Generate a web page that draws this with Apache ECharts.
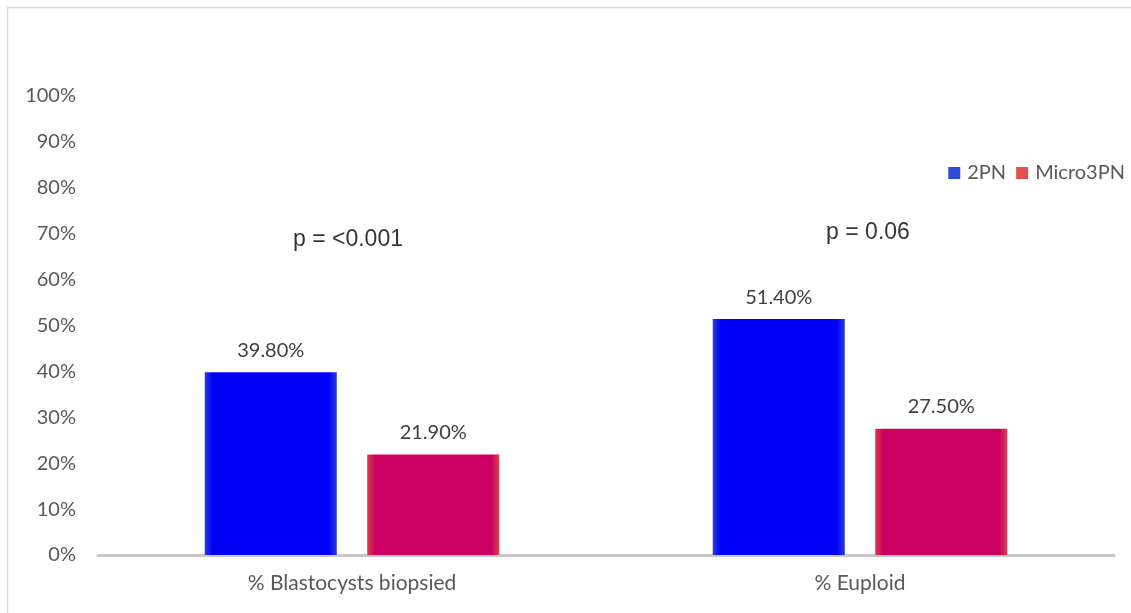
<!DOCTYPE html>
<html>
<head>
<meta charset="utf-8">
<script src="https://cdn.jsdelivr.net/npm/echarts@6/dist/echarts.min.js"></script>
<style>
html,body{margin:0;padding:0;background:#fff;}
#c{width:1131px;height:613px;}
</style>
</head>
<body>
<div id="c"></div>
<script>
var categories = ['% Blastocysts biopsied', '% Euploid'];
var seriesNames = ['2PN', 'Micro3PN'];
var values2PN = [39.8, 51.4];
var valuesMicro3PN = [21.9, 27.5];
var pLabels = ['p = <0.001', 'p = 0.06'];
var pLabelY = [68.6, 70.3];
var yTicks = [0, 10, 20, 30, 40, 50, 60, 70, 80, 90, 100];
var pLabelShift = [[-4, 0], [8, 0]];

function grad(edge, center) {
  return new echarts.graphic.LinearGradient(0, 0, 1, 0, [
    {offset: 0, color: edge},
    {offset: 0.06, color: center},
    {offset: 0.94, color: center},
    {offset: 1, color: edge}
  ]);
}

var chart = echarts.init(document.getElementById('c'), null, {renderer: 'canvas'});
var font = 'Lato';
chart.setOption({
  animation: false,
  backgroundColor: '#fff',
  graphic: [
    {type: 'line', shape: {x1: 7, y1: 7.5, x2: 1131, y2: 7.5}, style: {stroke: '#d9d9d9', lineWidth: 1.5}},
    {type: 'line', shape: {x1: 7.5, y1: 7, x2: 7.5, y2: 613}, style: {stroke: '#d9d9d9', lineWidth: 1.5}}
  ],
  legend: {
    data: [
      {name: seriesNames[0], itemStyle: {color: '#2f4bd6'}},
      {name: seriesNames[1], itemStyle: {color: '#e0504c'}}
    ],
    right: 1,
    top: 158,
    itemWidth: 12,
    itemHeight: 12,
    itemGap: 10,
    icon: 'rect',
    textStyle: {fontFamily: font, fontSize: 20, color: '#595959', padding: [0, 0, 0, 2]}
  },
  grid: {left: 98, right: 17, top: 96, bottom: 58, containLabel: false},
  xAxis: {
    type: 'category',
    data: categories,
    axisLine: {show: true, lineStyle: {color: '#c8c8c8', width: 3}},
    axisTick: {show: false},
    axisLabel: {fontFamily: font, fontSize: 21, color: '#595959', margin: 18}
  },
  yAxis: {
    type: 'value',
    min: yTicks[0],
    max: yTicks[yTicks.length - 1],
    interval: 10,
    splitLine: {show: false},
    axisLine: {show: false},
    axisTick: {show: false},
    axisLabel: {fontFamily: font, fontSize: 20, color: '#595959', margin: 22, formatter: '{value}%'}
  },
  series: [
    {
      name: seriesNames[0],
      type: 'bar',
      data: values2PN,
      barWidth: '26%',
      barGap: '23%',
      itemStyle: {color: grad('#2a3ed6', '#0000f8')},
      label: {show: true, position: 'top', distance: 12, fontFamily: font, fontSize: 20, color: '#404040',
        formatter: function (p) { return p.value.toFixed(2) + '%'; }}
    },
    {
      name: seriesNames[1],
      type: 'bar',
      data: valuesMicro3PN,
      barWidth: '26%',
      itemStyle: {color: grad('#d8404c', '#cc0060')},
      label: {show: true, position: 'top', distance: 12, fontFamily: font, fontSize: 20, color: '#404040',
        formatter: function (p) { return p.value.toFixed(2) + '%'; }}
    },
    {
      name: 'pvals',
      type: 'scatter',
      symbolSize: 0,
      silent: true,
      data: pLabelY.map(function (v, i) {
        return {value: [i, v], name: pLabels[i], label: {offset: pLabelShift[i]}};
      }),
      label: {show: true, position: 'inside', fontFamily: 'Liberation Sans', fontSize: 23, color: '#000',
        formatter: function (p) { return p.name; }}
    }
  ]
});
</script>
</body>
</html>
